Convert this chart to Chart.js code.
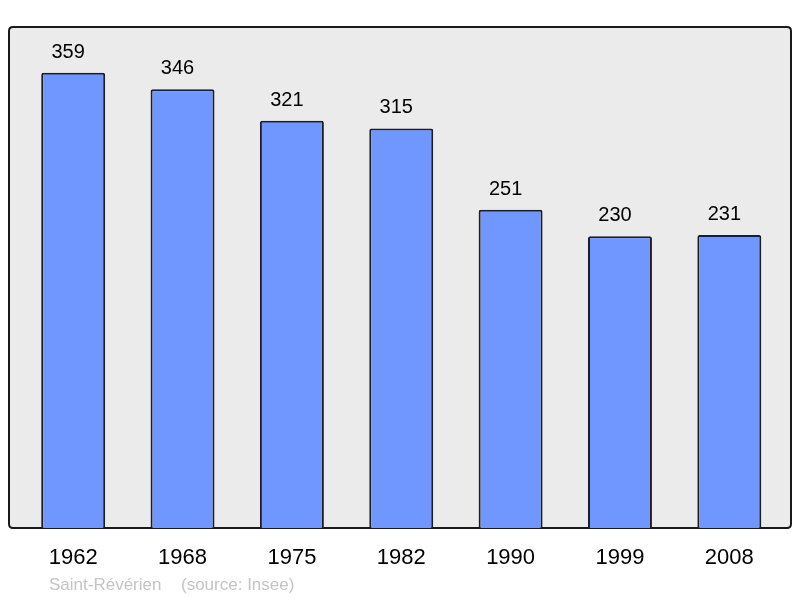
<!DOCTYPE html>
<html>
<head>
<meta charset="utf-8">
<script src="https://cdn.jsdelivr.net/npm/chart.js@4/dist/chart.umd.min.js"></script>
<style>
html,body{margin:0;padding:0;background:#fff;}
#wrap{position:relative;width:800px;height:598px;}
</style>
</head>
<body>
<div id="wrap"><canvas id="c" width="800" height="598"></canvas></div>
<script>
const years = ["1962","1968","1975","1982","1990","1999","2008"];
const population = [359,346,321,315,251,230,231];
const footerPlace = "Saint-Révérien";
const footerSource = "(source: Insee)";
const FONT = "'Liberation Sans', Arial, sans-serif";

const panelPlugin = {
  id: 'panel',
  beforeDatasetsDraw(chart) {
    const {ctx, chartArea: a} = chart;
    const x0 = a.left - 9.5, x1 = a.right + 7, y0 = a.top, y1 = a.bottom, r = 4;
    ctx.save();
    ctx.beginPath();
    ctx.moveTo(x0 + r, y0);
    ctx.lineTo(x1 - r, y0); ctx.quadraticCurveTo(x1, y0, x1, y0 + r);
    ctx.lineTo(x1, y1 - r); ctx.quadraticCurveTo(x1, y1, x1 - r, y1);
    ctx.lineTo(x0 + r, y1); ctx.quadraticCurveTo(x0, y1, x0, y1 - r);
    ctx.lineTo(x0, y0 + r); ctx.quadraticCurveTo(x0, y0, x0 + r, y0);
    ctx.closePath();
    ctx.fillStyle = '#ebebeb';
    ctx.fill();
    ctx.lineWidth = 2;
    ctx.strokeStyle = '#1a1a1a';
    ctx.stroke();
    ctx.restore();
  },
  afterDatasetsDraw(chart) {
    const {ctx} = chart;
    const meta = chart.getDatasetMeta(0);
    ctx.save();
    ctx.font = "20px " + FONT;
    ctx.fillStyle = '#000';
    ctx.textAlign = 'center';
    ctx.textBaseline = 'middle';
    meta.data.forEach((bar, i) => {
      ctx.fillText(String(chart.data.datasets[0].data[i]), bar.x - 5, bar.y - 20.5);
    });
    ctx.restore();
  },
  afterDraw(chart) {
    const {ctx} = chart;
    ctx.save();
    ctx.font = "17px " + FONT;
    ctx.fillStyle = '#c4c4c4';
    ctx.textAlign = 'left';
    ctx.textBaseline = 'alphabetic';
    ctx.fillText(footerPlace, 49, 590);
    ctx.fillText(footerSource, 181, 590);
    ctx.restore();
  }
};

new Chart(document.getElementById('c'), {
  type: 'bar',
  data: {
    labels: years,
    datasets: [{
      data: population,
      backgroundColor: '#7097ff',
      borderColor: '#1e1e1e',
      borderWidth: 2,
      borderSkipped: 'bottom',
      borderRadius: {topLeft: 2, topRight: 2, bottomLeft: 0, bottomRight: 0},
      barPercentage: 0.585,
      categoryPercentage: 1.0
    }]
  },
  options: {
    responsive: false,
    animation: false,
    devicePixelRatio: 1,
    layout: {padding: {left: 18.5, right: 16, top: 27, bottom: 0}},
    plugins: {legend: {display: false}, tooltip: {enabled: false}},
    scales: {
      x: {
        grid: {display: false},
        border: {display: false},
        ticks: {color: '#000', font: {family: FONT, size: 22}, padding: 9, maxRotation: 0},
        afterFit(scale) { scale.height = 70; }
      },
      y: {
        display: false,
        min: 0,
        max: 395
      }
    }
  },
  plugins: [panelPlugin]
});
</script>
</body>
</html>
